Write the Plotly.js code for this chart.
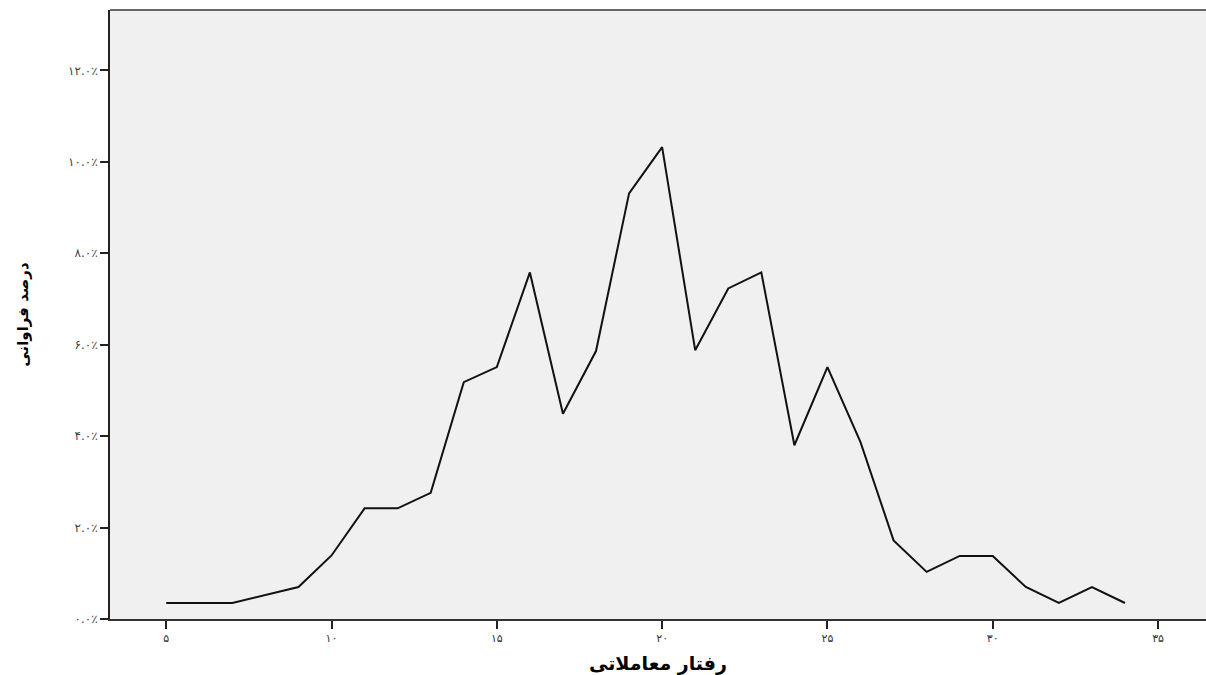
<!DOCTYPE html>
<html>
<head>
<meta charset="utf-8">
<script src="https://cdn.plot.ly/plotly-3.0.1.min.js"></script>
<style>
  html, body { margin: 0; padding: 0; background: #ffffff; }
  #chart { width: 1206px; height: 675px; }
</style>
</head>
<body>
<div id="chart"></div>
<script>
// Trading-behaviour score (x) against frequency percentage (y)
const scores = [5, 6, 7, 9, 10, 11, 12, 13, 14, 15, 16, 17, 18, 19, 20, 21, 22, 23, 24, 25, 26, 27, 28, 29, 30, 31, 32, 33, 34];
const percents = [0.35, 0.35, 0.35, 0.70, 1.39, 2.42, 2.42, 2.76, 5.18, 5.51, 7.58, 4.49, 5.86, 9.31, 10.32, 5.88, 7.23, 7.58, 3.80, 5.51, 3.87, 1.72, 1.03, 1.38, 1.38, 0.70, 0.35, 0.70, 0.35];

const xTickVals = [5, 10, 15, 20, 25, 30, 35];
const xTickText = ['۵', '۱۰', '۱۵', '۲۰', '۲۵', '۳۰', '۳۵'];
const yTickVals = [0, 2, 4, 6, 8, 10, 12];
const yTickText = ['۰.۰٪', '۲.۰٪', '۴.۰٪', '۶.۰٪', '۸.۰٪', '۱۰.۰٪', '۱۲.۰٪'];

const xTitle = 'رفتار معاملاتی';
const yTitle = 'درصد فراوانی';

const trace = {
  type: 'scatter',
  mode: 'lines',
  x: scores,
  y: percents,
  line: { color: '#111111', width: 2 },
  hoverinfo: 'x+y'
};

const layout = {
  width: 1206,
  height: 675,
  margin: { l: 110, r: 0, t: 10, b: 56 },
  paper_bgcolor: '#ffffff',
  plot_bgcolor: '#f0f0f0',
  showlegend: false,
  font: { family: 'DejaVu Sans, sans-serif', color: '#222222' },
  xaxis: {
    range: [3.3, 36.45],
    tickvals: xTickVals,
    ticktext: xTickText,
    ticks: 'outside',
    ticklen: 8,
    tickwidth: 2,
    tickcolor: '#222222',
    showgrid: false,
    zeroline: false,
    showline: true,
    linecolor: '#333333',
    linewidth: 2,
    tickfont: { size: 11, color: '#333333' },
    title: { text: xTitle, font: { size: 19, color: '#000000', family: 'DejaVu Sans, sans-serif', weight: 'bold' }, standoff: 12 }
  },
  yaxis: {
    range: [0, 13.32],
    tickvals: yTickVals,
    ticktext: yTickText,
    ticks: 'outside',
    ticklen: 8,
    tickwidth: 2,
    tickcolor: '#222222',
    showgrid: false,
    zeroline: false,
    showline: true,
    linecolor: '#222222',
    linewidth: 2,
    tickfont: { size: 12, color: '#444444' },
    title: { text: yTitle, font: { size: 15, color: '#000000', family: 'DejaVu Sans, sans-serif', weight: 'bold' }, standoff: 36 }
  },
  shapes: [
    { type: 'line', xref: 'paper', yref: 'paper', x0: 0, x1: 1, y0: 1, y1: 1,
      line: { color: '#666666', width: 2 } }
  ]
};

Plotly.newPlot('chart', [trace], layout, { displayModeBar: false, staticPlot: true });
</script>
</body>
</html>
